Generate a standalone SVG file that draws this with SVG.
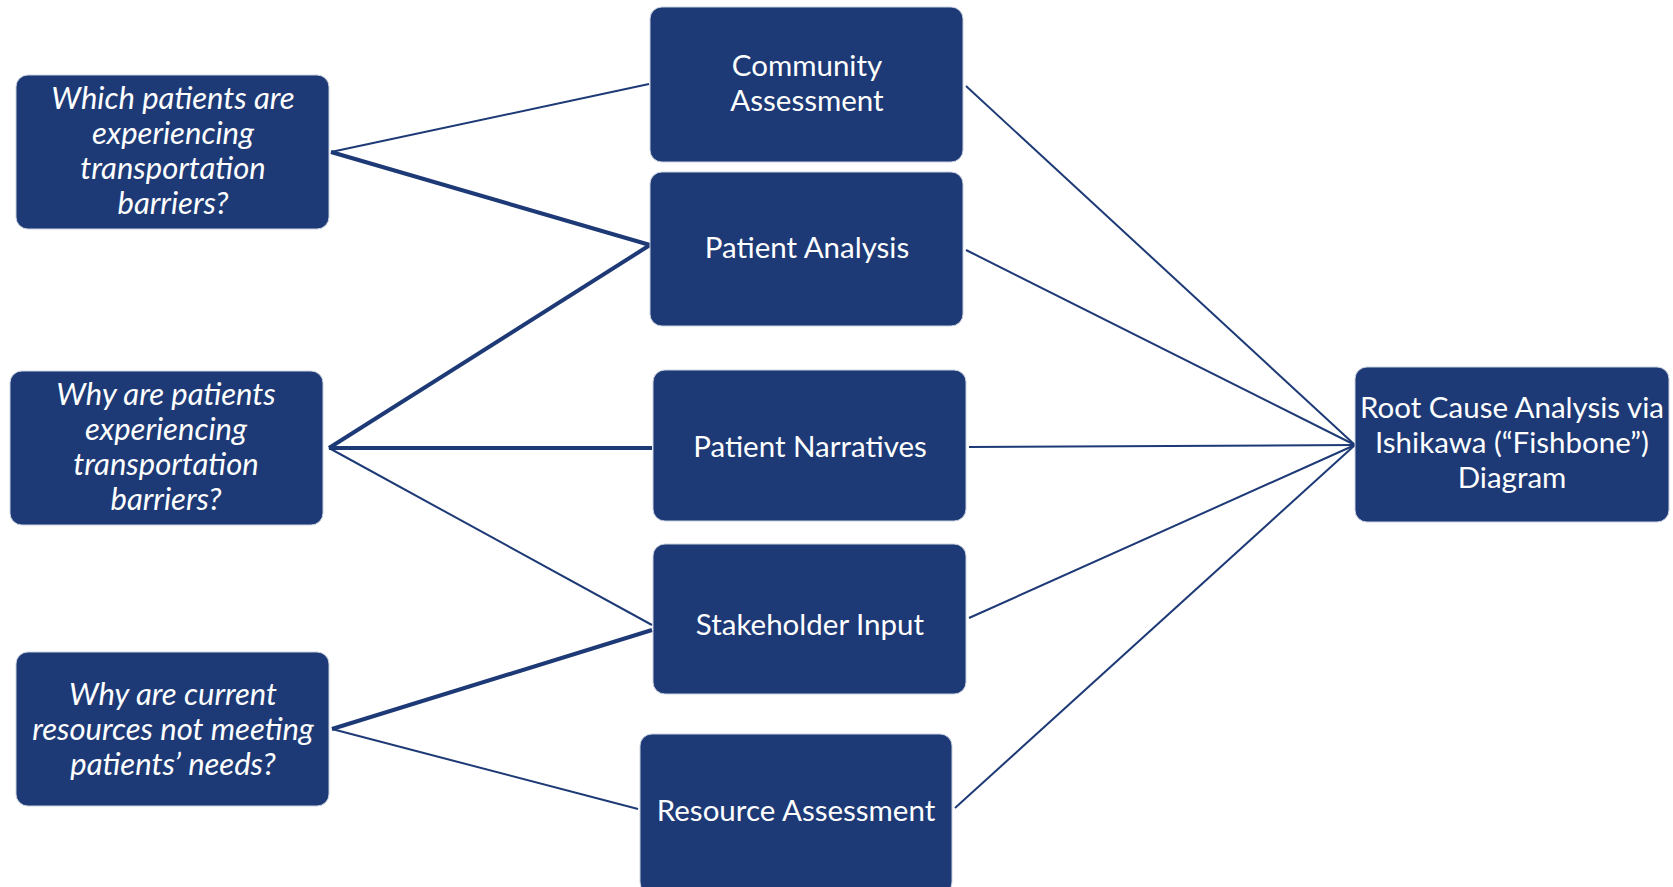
<svg xmlns="http://www.w3.org/2000/svg" width="1673" height="887" viewBox="0 0 1673 887">
<style>
.box{fill:#1d3a76;stroke:#c9d0de;stroke-width:1}
.t{fill:#ffffff;font-family:Lato,"Liberation Sans",sans-serif;font-size:29.5px;text-anchor:middle}
.q{font-style:italic;font-size:31px}
.thin{stroke:#1d3a76;stroke-width:2;fill:none}
.thick{stroke:#1d3a76;stroke-width:4;fill:none}
</style>
<rect width="1673" height="887" fill="#ffffff"/>
<g id="connectors">
<line class="thin" x1="331" y1="152" x2="649" y2="84"/>
<line class="thick" x1="331" y1="152" x2="650" y2="245"/>
<line class="thick" x1="329" y1="448" x2="650" y2="245"/>
<line class="thick" x1="329" y1="448" x2="652" y2="448"/>
<line class="thin" x1="329" y1="448" x2="652" y2="625"/>
<line class="thick" x1="332" y1="729" x2="652" y2="630"/>
<line class="thin" x1="332" y1="729" x2="638" y2="809"/>
<line class="thin" x1="966" y1="86" x2="1355" y2="445"/>
<line class="thin" x1="966" y1="250" x2="1355" y2="445"/>
<line class="thin" x1="969" y1="447" x2="1355" y2="445"/>
<line class="thin" x1="969" y1="618" x2="1355" y2="445"/>
<line class="thin" x1="955" y1="808" x2="1355" y2="445"/>
</g>
<g id="q1">
<rect class="box" x="16" y="75" width="313" height="154" rx="12"/>
<text class="t q" x="173" y="109">Which patients are</text>
<text class="t q" x="173" y="144">experiencing</text>
<text class="t q" x="173" y="179">transportation</text>
<text class="t q" x="173" y="214">barriers?</text>
</g>
<g id="q2">
<rect class="box" x="10" y="371" width="313" height="154" rx="12"/>
<text class="t q" x="166" y="405">Why are patients</text>
<text class="t q" x="166" y="440">experiencing</text>
<text class="t q" x="166" y="475">transportation</text>
<text class="t q" x="166" y="510">barriers?</text>
</g>
<g id="q3">
<rect class="box" x="16" y="652" width="313" height="154" rx="12"/>
<text class="t q" x="173" y="705">Why are current</text>
<text class="t q" x="173" y="740">resources not meeting</text>
<text class="t q" x="173" y="775">patients’ needs?</text>
</g>
<g id="community">
<rect class="box" x="650" y="7" width="313" height="155" rx="12"/>
<text class="t" x="807" y="76">Community</text>
<text class="t" x="807" y="111">Assessment</text>
</g>
<g id="patient-analysis">
<rect class="box" x="650" y="172" width="313" height="154" rx="12"/>
<text class="t" x="807" y="258">Patient Analysis</text>
</g>
<g id="patient-narratives">
<rect class="box" x="653" y="370" width="313" height="151" rx="12"/>
<text class="t" x="810" y="457">Patient Narratives</text>
</g>
<g id="stakeholder-input">
<rect class="box" x="653" y="544" width="313" height="150" rx="12"/>
<text class="t" x="810" y="635">Stakeholder Input</text>
</g>
<g id="resource-assessment">
<rect class="box" x="640" y="734" width="312" height="160" rx="12"/>
<text class="t" x="796" y="821">Resource Assessment</text>
</g>
<g id="root-cause">
<rect class="box" x="1355" y="367" width="314" height="155" rx="12"/>
<text class="t" x="1512" y="418">Root Cause Analysis via</text>
<text class="t" x="1512" y="453">Ishikawa (“Fishbone”)</text>
<text class="t" x="1512" y="488">Diagram</text>
</g>
</svg>
